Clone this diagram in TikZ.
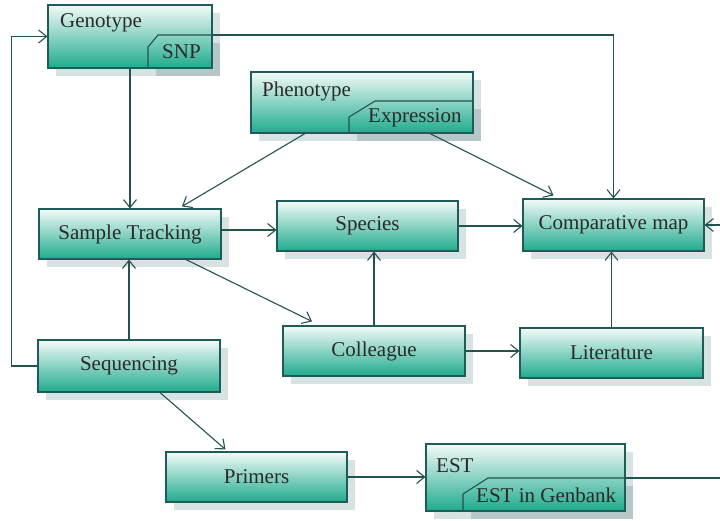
\documentclass[tikz,border=0pt]{standalone}
\usepackage{fontspec}
\setmainfont{Liberation Serif}
\usetikzlibrary{arrows.meta,shadows,backgrounds}

\definecolor{lineTeal}{HTML}{24524F}
\definecolor{boxEdge}{HTML}{1F5C57}
\definecolor{gradTop}{HTML}{F2FAF8}
\definecolor{gradBot}{HTML}{1FAB8D}
\definecolor{shadeLight}{HTML}{D7E3E3}
\definecolor{shadeDark}{HTML}{B5C7C8}
\definecolor{txt}{HTML}{2A2A2A}

\tikzset{
  boxbase/.style={rectangle, draw=boxEdge, line width=1.1pt, top color=gradTop, bottom color=gradBot, text=txt, inner sep=0pt},
  box/.style={boxbase, drop shadow={shadow xshift=8pt, shadow yshift=-8pt, fill=shadeLight, opacity=1}},
  conn/.style={draw=lineTeal, line width=1.1pt, -{Straight Barb[length=8pt,width=13pt]}},
  plain/.style={draw=lineTeal, line width=1.1pt},
  lbl/.style={text=txt, inner sep=0pt, anchor=base west},
}

\begin{document}
\begin{tikzpicture}[x=1pt,y=1pt,font=\fontsize{21}{25}\selectfont]
    \useasboundingbox (0,0) rectangle (720,520);

    % boxes with a tab
    \node[boxbase,minimum width=164pt,minimum height=63pt] (geno) at (130,483.5) {};
    \node[boxbase,minimum width=222pt,minimum height=61pt] (pheno) at (362,417.5) {};
    \node[boxbase,minimum width=199pt,minimum height=67pt] (est) at (525.5,42.5) {};

    \begin{pgfonlayer}{background}
        \fill[shadeLight] (56,507) rectangle (220,444);
        \fill[shadeDark] (156,477) rectangle (220,444);
        \fill[shadeLight] (259,440) rectangle (481,379);
        \fill[shadeDark] (357,411) rectangle (481,379);
        \fill[shadeLight] (434,68) rectangle (633,1);
        \fill[shadeDark] (471,34) rectangle (633,1);
    \end{pgfonlayer}

    \draw[plain] (148,452) -- (148,473) -- (158,485) -- (212,485);
    \draw[plain] (349,387) -- (349,403) -- (375,419) -- (473,419);
    \draw[plain] (463,9) -- (463,26) -- (488,42) -- (625,42);

    \node[lbl] (genoTxt) at (60,492) {Genotype};
    \node[lbl] (snpTxt) at (162,461) {SNP};
    \node[lbl] (phenoTxt) at (262,423) {Phenotype};
    \node[lbl] (exprTxt) at (368,397) {Expression};
    \node[lbl] (estTxt) at (436,47.5) {EST};
    \node[lbl] (genbankTxt) at (476,17.5) {EST in Genbank};

    % plain boxes
    \node[box,minimum width=182pt,minimum height=50pt] (track) at (130,286) {Sample Tracking};
    \node[box,minimum width=181pt,minimum height=50pt] (species) at (367.5,294) {Species};
    \node[box,minimum width=181pt,minimum height=52pt] (comp) at (613.5,295) {Comparative map};
    \node[box,minimum width=182pt,minimum height=50pt] (coll) at (374,169) {Colleague};
    \node[box,minimum width=183pt,minimum height=50pt] (lit) at (611.5,167) {Literature};
    \node[box,minimum width=182pt,minimum height=52pt] (seq) at (129,154) {Sequencing};
    \node[box,minimum width=181pt,minimum height=50pt] (prim) at (256.5,43) {Primers};

    \coordinate (snpTab) at (212,485);
    \coordinate (estTab) at (625,42);
    \coordinate (rimA) at (720,295);
    \coordinate (rimB) at (720,42);

    \draw[conn] (geno.south) -- (track.north);
    \draw[conn] ([xshift=-57pt]pheno.south) -- ([xshift=52pt,yshift=2pt]track.north);
    \draw[conn] ([xshift=68pt]pheno.south) -- ([xshift=-60pt,yshift=3pt]comp.north);
    \draw[conn] (snpTab) -| (comp.north);
    \draw[conn] ([yshift=4pt]track.east) -- ([yshift=4pt]track.east -| species.west);
    \draw[conn] ([xshift=56pt]track.south) -- ([xshift=-62pt,yshift=4pt]coll.north);
    \draw[conn] (species.east) -- (species.east -| comp.west);
    \draw[conn] (coll.north) -- (coll.north |- species.south);
    \draw[conn] (coll.east) -- (coll.east -| lit.west);
    \draw[conn] (lit.north) -- (lit.north |- comp.south);
    \draw[conn] (seq.north) -- (seq.north |- track.south);
    \draw[conn] (seq.west) -- ++(-26,0) |- (geno.west);
    \draw[conn] ([xshift=31pt]seq.south) -- ([xshift=-31pt,yshift=2pt]prim.north);
    \draw[conn] (prim.east) -- (prim.east -| est.west);
    \draw[conn] (rimA) -- (comp.east);
    \draw[plain] (estTab) -- (rimB);
\end{tikzpicture}
\end{document}
